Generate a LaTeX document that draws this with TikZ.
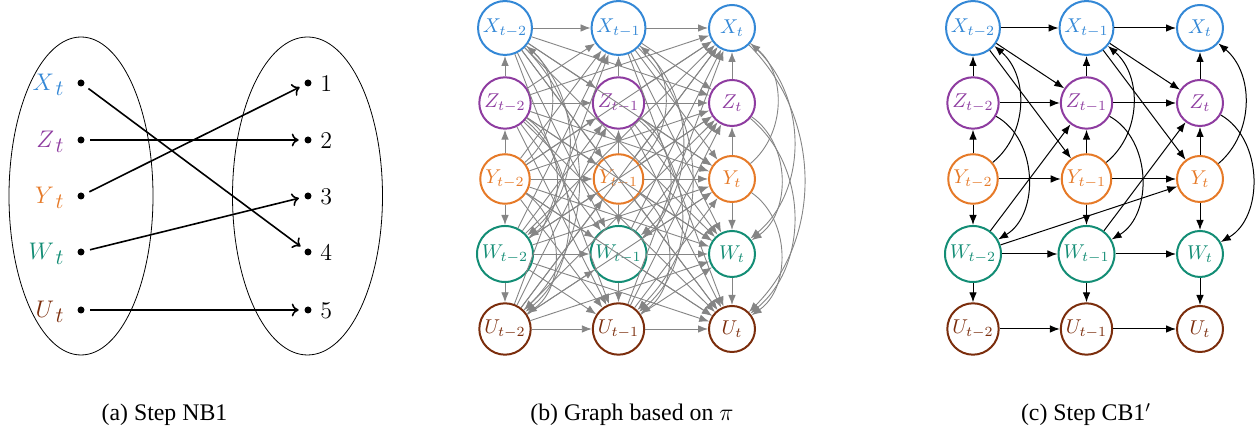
\documentclass[tikz,border=0pt]{standalone}
\usepackage[no-math]{fontspec}
\setmainfont{Liberation Serif}
\usetikzlibrary{arrows.meta}
\definecolor{cX}{RGB}{52,136,214}
\definecolor{cZ}{RGB}{142,60,160}
\definecolor{cY}{RGB}{230,122,40}
\definecolor{cW}{RGB}{19,141,117}
\definecolor{cU}{RGB}{123,45,12}
\newcommand{\biglab}[2]{\fontsize{12.4}{15}\selectfont$#1$\kern0.8pt\raisebox{-2.4pt}{\fontsize{10.5}{12}\selectfont$#2$}}
\begin{document}
\begin{tikzpicture}[x=0.5pt,y=-0.5pt,
  vnode/.style={circle,draw,line width=1pt,minimum size=23pt,inner sep=1.2pt,font=\fontsize{10}{12}\selectfont},
  cedge/.style={line width=0.5pt,-{Latex[length=5pt,width=3.8pt]}},
  bedge/.style={line width=0.45pt,draw=black!48,-{Latex[length=5pt,width=3.8pt]}},
  dotn/.style={circle,fill,inner sep=0pt,minimum size=3.5pt,outer sep=2.9pt},
  aedge/.style={line width=0.8pt,-{To[length=3.5pt,width=6.5pt]}},
  lab/.style={inner sep=0pt},
  captxt/.style={inner sep=0pt,anchor=base,font=\fontsize{11.9}{14}\selectfont}]
\useasboundingbox (0,0) rectangle (1260,431);

% ---------------- (a) ----------------
\draw[line width=0.4pt] (81,196) ellipse [x radius=36pt, y radius=79.5pt];
\draw[line width=0.4pt] (307.5,196) ellipse [x radius=37.5pt, y radius=79.5pt];
\foreach \v/\c/\y/\n in {X/cX/83/1, Z/cZ/140/2, Y/cY/196/3, W/cW/252/4, U/cU/310/5}{
  \node[dotn] (a\v) at (81,\y) {};
  \node[lab,anchor=base east,text=\c] (al\v) at (64,{\y+7.5}) {\biglab{\v}{t}};
  \node[dotn] (r\n) at (308,\y) {};
  \node[lab,anchor=base west] (rl\n) at (320,{\y+8.5}) {\fontsize{12.4}{15}\selectfont$\n$};
}
\draw[aedge] (aX) -- (r4);
\draw[aedge] (aZ) -- (r2);
\draw[aedge] (aY) -- (r1);
\draw[aedge] (aW) -- (r3);
\draw[aedge] (aU) -- (r5);
\node[captxt] (capA) at (164.5,421) {(a) Step NB1};

% ---------------- nodes (b) and (c) ----------------
\foreach \v/\c/\y in {X/cX/28, Z/cZ/103, Y/cY/179, W/cW/254, U/cU/329}{
  \foreach \k/\s in {0/t-2,1/t-1,2/t}{
    \node[vnode,draw=\c,text=\c] (b\v\k) at ({505+113.5*\k},\y) {$\v_{\s}$};
    \node[vnode,draw=\c,text=\c] (c\v\k) at ({973+113.5*\k},\y) {$\v_{\s}$};
  }
}

% ---------------- (b) edges ----------------
\foreach \k in {0,1,2}{
  \draw[bedge] (bZ\k) -- (bX\k);
  \draw[bedge] (bY\k) -- (bZ\k);
  \draw[bedge] (bY\k) -- (bW\k);
  \draw[bedge] (bW\k) -- (bU\k);
  \draw[bedge] (bY\k) to[bend right=50] (bX\k);
  \draw[bedge] (bZ\k) to[bend left=55] (bW\k);
  \draw[bedge] (bY\k) to[bend left=55] (bU\k);
  \draw[bedge] (bZ\k) to[bend left=50] (bU\k);
  \draw[bedge] (bX\k) to[bend left=50] (bW\k);
  \draw[bedge] (bX\k) to[bend left=45] (bU\k);
}
\foreach \va in {X,Z,Y,W,U}{
  \foreach \vb in {X,Z,Y,W,U}{
    \draw[bedge] (b\va0) -- (b\vb1);
    \draw[bedge] (b\va1) -- (b\vb2);
    \ifx\va\vb\else\draw[bedge] (b\va0) -- (b\vb2);\fi
  }
}
\node[captxt] (capB) at (632,421) {(b) Graph based on $\pi$};

% ---------------- (c) edges ----------------
\foreach \v in {X,Z,Y,W,U}{
  \draw[cedge] (c\v0) -- (c\v1);
  \draw[cedge] (c\v1) -- (c\v2);
}
\foreach \k in {0,1,2}{
  \draw[cedge] (cZ\k) -- (cX\k);
  \draw[cedge] (cY\k) -- (cZ\k);
  \draw[cedge] (cY\k) -- (cW\k);
  \draw[cedge] (cW\k) -- (cU\k);
  \draw[cedge] (cY\k) to[bend right=50] (cX\k);
  \draw[cedge] (cZ\k) to[bend left=60] (cW\k);
}
\draw[cedge] (cX0) -- (cZ1);
\draw[cedge] (cX0) -- (cY1);
\draw[cedge] (cW0) -- (cZ1);
\draw[cedge] (cX1) -- (cZ2);
\draw[cedge] (cX1) -- (cY2);
\draw[cedge] (cW1) -- (cZ2);
\draw[cedge] (cW0) -- (cY2);
\node[captxt] (capC) at (1086,421) {(c) Step CB1$'$};
\end{tikzpicture}
\end{document}
